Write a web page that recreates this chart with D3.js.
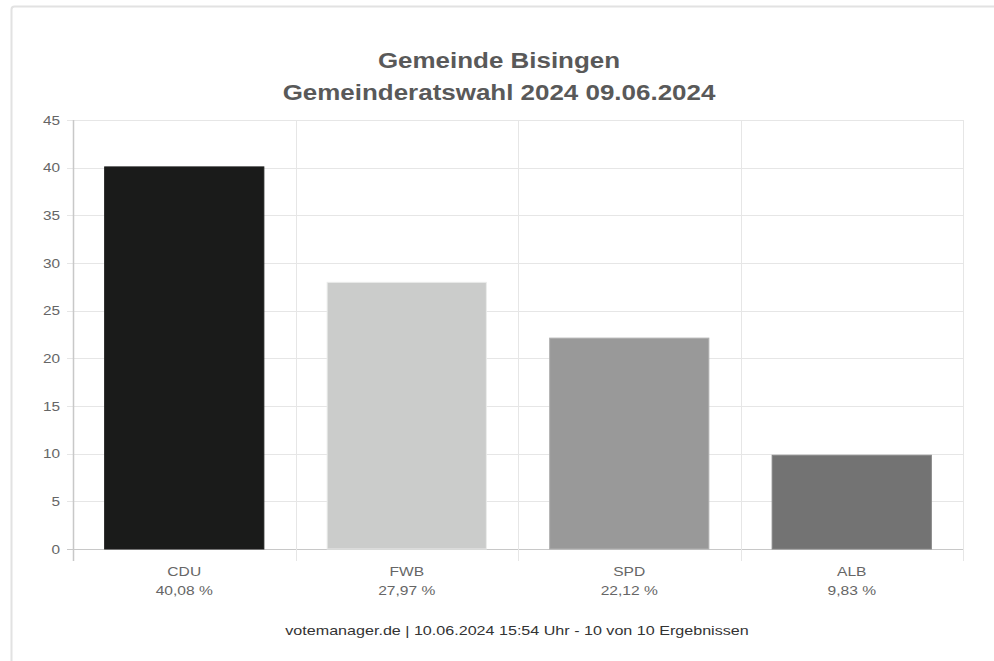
<!DOCTYPE html>
<html><head><meta charset="utf-8">
<script src="https://cdn.jsdelivr.net/npm/d3@7"></script>
<style>html,body{margin:0;padding:0;background:#fff;}svg{display:block;}</style>
</head><body>
<svg id="chart" width="994" height="661"></svg>
<script>
const titleLines = ["Gemeinde Bisingen", "Gemeinderatswahl 2024 09.06.2024"];
const categories = ["CDU", "FWB", "SPD", "ALB"];
const values = [40.08, 27.97, 22.12, 9.83];
const percentLabels = ["40,08 %", "27,97 %", "22,12 %", "9,83 %"];
const colors = ["#1a1b1a", "#cbcccb", "#999999", "#737373"];
const yTicks = [0, 5, 10, 15, 20, 25, 30, 35, 40, 45];
const footer = "votemanager.de | 10.06.2024 15:54 Uhr - 10 von 10 Ergebnissen";

const svg = d3.select("#chart");
const font = "Liberation Sans, Arial, sans-serif";

// card
svg.append("rect").attr("x", 11.5).attr("y", 6.5).attr("width", 990).attr("height", 700)
  .attr("rx", 3).attr("fill", "#fff").attr("stroke", "#e2e2e2").attr("stroke-width", 2);

const m = {left: 73, right: 963, top: 120, bottom: 549};
const x = d3.scaleBand().domain(categories).range([m.left, m.right]).paddingInner(0.28).paddingOuter(0.14);
const xGrid = d3.scaleLinear().domain([0, categories.length]).range([m.left, m.right]);
const y = d3.scaleLinear().domain([0, 45]).range([m.bottom, m.top]);

// horizontal grid
svg.append("g").selectAll("line").data(yTicks).join("line")
  .attr("x1", m.left - 6).attr("x2", m.right)
  .attr("y1", d => Math.round(y(d)) + 0.5).attr("y2", d => Math.round(y(d)) + 0.5)
  .attr("stroke", d => d === 0 ? "#c8c8c8" : "#e6e6e6").attr("stroke-width", 1);

// vertical grid
svg.append("g").selectAll("line").data(d3.range(categories.length + 1)).join("line")
  .attr("x1", d => Math.round(xGrid(d)) + 0.5).attr("x2", d => Math.round(xGrid(d)) + 0.5)
  .attr("y1", m.top).attr("y2", m.bottom + 12)
  .attr("stroke", d => d === 0 ? "#c8c8c8" : "#e6e6e6").attr("stroke-width", d => d === 0 ? 1.5 : 1);

// helper: horizontally stretched text
function stxt(g, tx, ty, k, size, weight, fill, anchor, s) {
  return g.append("text")
    .attr("transform", `translate(${tx},${ty}) scale(${k},1)`)
    .attr("text-anchor", anchor).attr("font-family", font).attr("font-size", size)
    .attr("font-weight", weight).attr("fill", fill).text(s);
}

// y tick labels
const yl = svg.append("g");
yTicks.forEach(d => stxt(yl, m.left - 13, y(d) + 4.5, 1.28, 12, "normal", "#666", "end", d));

// bars
svg.append("g").selectAll("rect").data(values).join("rect")
  .attr("x", (d, i) => x(categories[i]) + 0.5).attr("width", x.bandwidth() - 1)
  .attr("y", d => y(d)).attr("height", d => y(0) - y(d))
  .attr("fill", (d, i) => colors[i])
  .attr("stroke", (d, i) => d3.color(colors[i]).brighter(0.4)).attr("stroke-width", 1);

// x labels
const xl = svg.append("g");
categories.forEach((c, i) => {
  const cx = x(c) + x.bandwidth() / 2;
  stxt(xl, cx, 576, 1.3, 12, "normal", "#666", "middle", c);
  stxt(xl, cx, 595, 1.3, 12, "normal", "#666", "middle", percentLabels[i]);
});

// title
const tg = svg.append("g");
titleLines.forEach((t, i) => stxt(tg, 499, 68 + i * 32, 1.18, 22, "bold", "#595959", "middle", t));

// footer
stxt(svg.append("g"), 517, 635, 1.24, 13, "normal", "#333", "middle", footer);
</script>
</body></html>
